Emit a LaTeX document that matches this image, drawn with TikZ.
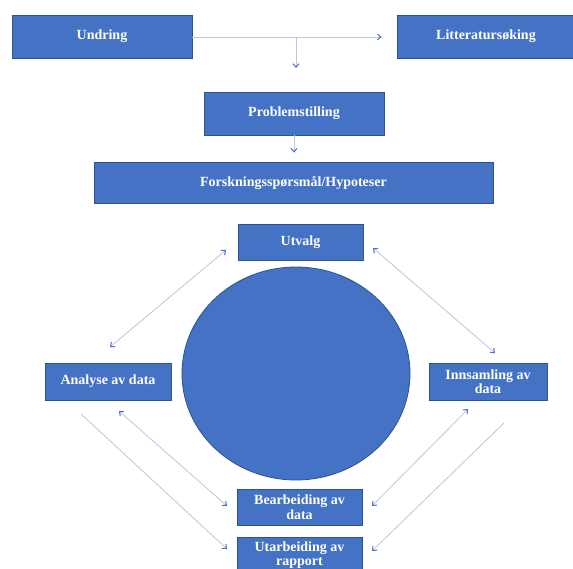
\documentclass[tikz,border=0pt]{standalone}
\usepackage{fontspec}
\setmainfont{Liberation Serif}
\usetikzlibrary{arrows.meta,shapes.geometric}
\definecolor{boxblue}{HTML}{4472C4}
\definecolor{boxedge}{HTML}{2F528F}
\definecolor{linegrey}{HTML}{BCC6DE}
\definecolor{tipblue}{HTML}{4A70C8}
\tikzset{
  flowbox/.style={draw=boxedge, line width=0.8pt, fill=boxblue, text=white,
    font=\fontsize{14}{14.5}\selectfont\bfseries, align=center,
    inner sep=0pt, minimum height=#1},
  flowbox/.default=43pt,
  conn/.style={draw=linegrey, line width=0.8pt},
  tipend/.style={-{Straight Barb[length=3.5pt,width=6pt,color=tipblue,line width=1pt]}},
  tipboth/.style={{Straight Barb[length=3.5pt,width=6pt,color=tipblue,line width=1pt]}-{Straight Barb[length=3.5pt,width=6pt,color=tipblue,line width=1pt]}}
}
\begin{document}
\begin{tikzpicture}[x=1pt,y=-1pt]
\useasboundingbox (0,0) rectangle (573,568);
\clip (0,0) rectangle (573,568);
\fill[white] (0,0) rectangle (573,568);

% boxes
\node[flowbox, minimum width=180pt] (und) at (102,36.5) {Undring};
\node[flowbox, minimum width=178pt] (lit) at (486,36.5) {Litteratursøking};
\node[flowbox=43pt, minimum width=180pt] (prob) at (294,113.5) {Problemstilling};
\node[flowbox=41pt, minimum width=399pt] (fors) at (293.5,182.5) {Forskningsspørsmål/Hypoteser};
\node[flowbox=36pt, minimum width=125pt] (utv) at (300.5,242) {Utvalg};
\node[draw=boxedge, line width=0.8pt, fill=boxblue, ellipse, minimum width=228pt, minimum height=213pt, inner sep=0pt] (circ) at (296,373.5) {};
\node[flowbox=37pt, minimum width=126pt] (ana) at (108,381.5) {Analyse av data};
\node[flowbox=37pt, minimum width=118pt] (inn) at (488,381.5) {Innsamling av\\data};
\node[flowbox=36pt, minimum width=125pt] (bea) at (299.5,507) {Bearbeiding av\\data};
\node[flowbox=36pt, minimum width=125pt] (uta) at (299.5,555) {Utarbeiding av\\rapport};

% top connectors
\coordinate (split) at (296,37);
\coordinate (splitend) at (296,68);
\draw[conn, tipend, shorten >=15pt] (und.east |- split) -- (lit.west |- split);
\draw[conn, tipend] (split) -- (splitend);
\draw[conn, tipend, shorten >=9pt] (prob.south) -- (fors.north -| prob.south);

% cycle connectors
\coordinate (a1) at (226,250);
\coordinate (a2) at (110,347);
\draw[conn, tipboth] (a2) -- (a1);
\coordinate (b1) at (373,248);
\coordinate (b2) at (495,353);
\draw[conn, tipboth] (b1) -- (b2);
\coordinate (c1) at (119,411);
\coordinate (c2) at (227,506);
\draw[conn, tipboth] (c1) -- (c2);
\coordinate (d1) at (468,409);
\coordinate (d2) at (372,506);
\draw[conn, tipboth] (d2) -- (d1);
\coordinate (e1) at (81,414);
\coordinate (e2) at (227,549);
\draw[conn, tipend] (e1) -- (e2);
\coordinate (f1) at (504,423);
\coordinate (f2) at (372,551);
\draw[conn, tipend] (f1) -- (f2);
\end{tikzpicture}
\end{document}
